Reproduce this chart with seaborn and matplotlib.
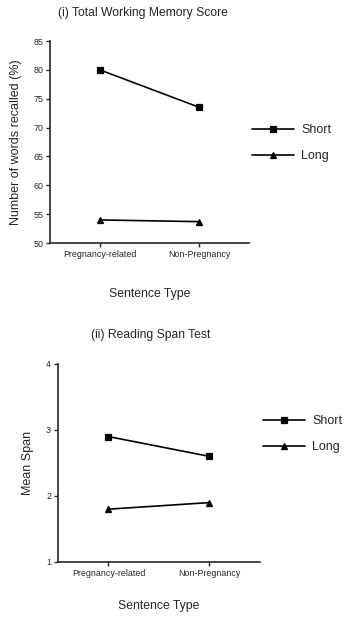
import numpy as np
import pandas as pd
import matplotlib
matplotlib.use("Agg")
import matplotlib.pyplot as plt
import seaborn as sns

# data
sentence_types = ["Pregnancy-related", "Non-Pregnancy"]
lengths = ["Short", "Long"]
memory_short = [80.0, 73.5]
memory_long = [54.0, 53.7]
span_short = [2.9, 2.6]
span_long = [1.8, 1.9]

sns.set_style("ticks")
plt.rcParams["font.family"] = ["Liberation Sans", "DejaVu Sans"]


def make_df(short_vals, long_vals):
    return pd.DataFrame({
        "type": sentence_types * 2,
        "length": ["Short"] * 2 + ["Long"] * 2,
        "value": list(short_vals) + list(long_vals),
    })


mem_df = make_df(memory_short, memory_long)
span_df = make_df(span_short, span_long)

fig = plt.figure(figsize=(3.58, 6.34), dpi=100)
ax1 = fig.add_axes([0.140, 0.6167, 0.556, 0.3186])
ax2 = fig.add_axes([0.162, 0.1136, 0.564, 0.3123])

pal = {"Short": "black", "Long": "black"}


def draw(ax, df, ylim, yticks, ylabel, title, title_x, leg_xy, xpad, ypad, tpad):
    sns.pointplot(data=df, x="type", y="value", hue="length",
                  hue_order=lengths, order=sentence_types, palette=pal,
                  markers=["s", "^"], linestyles=["-", "-"],
                  errorbar=None, markersize=5, linewidth=1.2, ax=ax)
    ax.set_xlim(-0.5, 1.5)
    ax.set_ylim(*ylim)
    ax.set_yticks(yticks)
    ax.tick_params(axis="both", labelsize=6.4, length=3, width=1, direction="out", pad=2)
    for s in ["top", "right"]:
        ax.spines[s].set_visible(False)
    for s in ["left", "bottom"]:
        ax.spines[s].set_linewidth(1.2)
    ax.set_xlabel("Sentence Type", fontsize=8.8, labelpad=xpad)
    ax.set_ylabel(ylabel, fontsize=9, labelpad=ypad)
    ax.set_title(title, fontsize=8.7, pad=tpad, x=title_x)
    sns.move_legend(ax, "upper left", bbox_to_anchor=leg_xy,
                    bbox_transform=fig.transFigure, frameon=False, title=None,
                    fontsize=9, handlelength=3.3, borderpad=0, labelspacing=1.1,
                    handletextpad=0.6)


draw(ax1, mem_df, (50, 85), np.arange(50, 86, 5), "Number of words recalled (%)",
     "(i) Total Working Memory Score", 0.467, (246 / 358, 1 - 118 / 634), 21, 8, 18)
draw(ax2, span_df, (1, 4), [1, 2, 3, 4], "Mean Span",
     "(ii) Reading Span Test", 0.46, (257 / 358, 1 - 409 / 634), 16, 9, 19)

fig.savefig("out.png", dpi=100)
